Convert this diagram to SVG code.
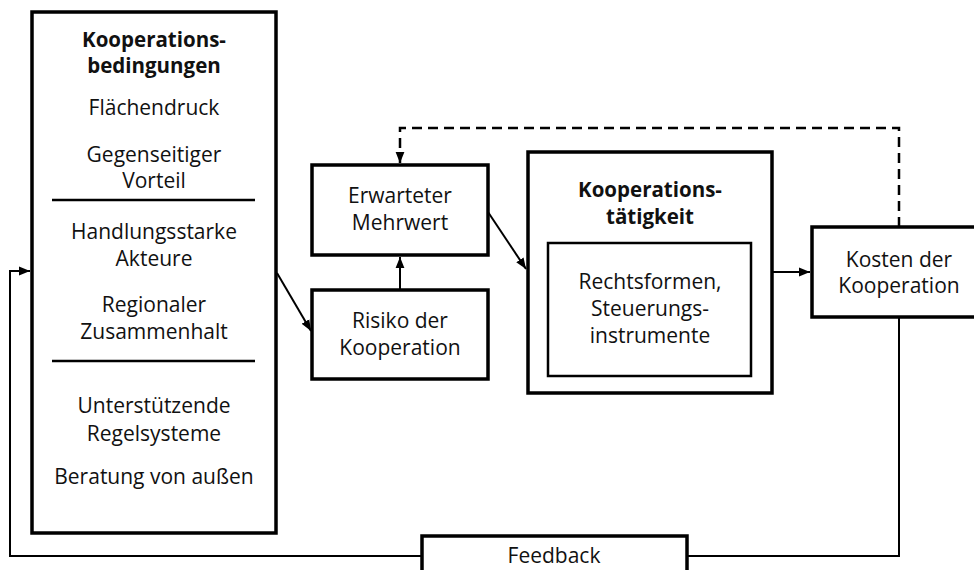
<svg xmlns="http://www.w3.org/2000/svg" width="974" height="570" viewBox="0 0 974 570">
<style>
.box{fill:#fff;stroke:#000;stroke-width:3.5}
.inner{fill:#fff;stroke:#000;stroke-width:2.5}
.t{font-family:"Open Sans","Noto Sans",sans-serif;font-size:21px;fill:#111;text-anchor:middle}
.b{font-weight:bold;font-size:20.5px}
.ln{fill:none;stroke:#000;stroke-width:2}
.dash{fill:none;stroke:#000;stroke-width:2.5;stroke-dasharray:10 6}
</style>
<defs>
<marker id="ah" viewBox="0 0 10 10" refX="10" refY="5" markerWidth="11" markerHeight="11" markerUnits="userSpaceOnUse" orient="auto">
<path d="M0,1 L10,5 L0,9 Z" fill="#000"/>
</marker>
</defs>
<g id="connectors">
<path class="ln" d="M277,273 L311,331" marker-end="url(#ah)"/>
<path class="ln" d="M400,290 L400,257" marker-end="url(#ah)"/>
<path class="ln" d="M488,212 L526,269" marker-end="url(#ah)"/>
<path class="ln" d="M772,272 L810,272" marker-end="url(#ah)"/>
<path class="dash" d="M899,227 V128 H400 V163" marker-end="url(#ah)"/>
<path class="ln" d="M899,317 V556 H687"/>
<path class="ln" d="M422,556 H10 V271 H30" marker-end="url(#ah)"/>
</g>
<g id="bedingungen">
<rect class="box" x="32" y="12" width="244" height="521"/>
<line x1="52" y1="200" x2="255" y2="200" stroke="#000" stroke-width="2.5"/>
<line x1="52" y1="361" x2="255" y2="361" stroke="#000" stroke-width="2.5"/>
<text class="t b" x="154" y="47">Kooperations-</text>
<text class="t b" x="154" y="73">bedingungen</text>
<text class="t" x="154" y="115">Flächendruck</text>
<text class="t" x="154" y="162">Gegenseitiger</text>
<text class="t" x="154" y="188">Vorteil</text>
<text class="t" x="154" y="239">Handlungsstarke</text>
<text class="t" x="154" y="266">Akteure</text>
<text class="t" x="154" y="312">Regionaler</text>
<text class="t" x="154" y="339">Zusammenhalt</text>
<text class="t" x="154" y="413">Unterstützende</text>
<text class="t" x="154" y="441">Regelsysteme</text>
<text class="t" x="154" y="484">Beratung von außen</text>
</g>
<g id="mehrwert">
<rect class="box" x="312" y="165" width="176" height="90"/>
<text class="t" x="400" y="203">Erwarteter</text>
<text class="t" x="400" y="230">Mehrwert</text>
</g>
<g id="risiko">
<rect class="box" x="312" y="290" width="176" height="89"/>
<text class="t" x="400" y="328">Risiko der</text>
<text class="t" x="400" y="355">Kooperation</text>
</g>
<g id="taetigkeit">
<rect class="box" x="528" y="152" width="244" height="241" stroke-width="4"/>
<text class="t b" x="650" y="197">Kooperations-</text>
<text class="t b" x="650" y="224">tätigkeit</text>
<rect class="inner" x="548" y="243" width="203" height="133"/>
<text class="t" x="650" y="289">Rechtsformen,</text>
<text class="t" x="650" y="316">Steuerungs-</text>
<text class="t" x="650" y="343">instrumente</text>
</g>
<g id="kosten">
<rect class="box" x="812" y="227" width="174" height="90"/>
<text class="t" x="899" y="267">Kosten der</text>
<text class="t" x="899" y="293">Kooperation</text>
</g>
<g id="feedback">
<rect class="box" x="422" y="536" width="265" height="50"/>
<text class="t" x="554" y="563">Feedback</text>
</g>
</svg>
